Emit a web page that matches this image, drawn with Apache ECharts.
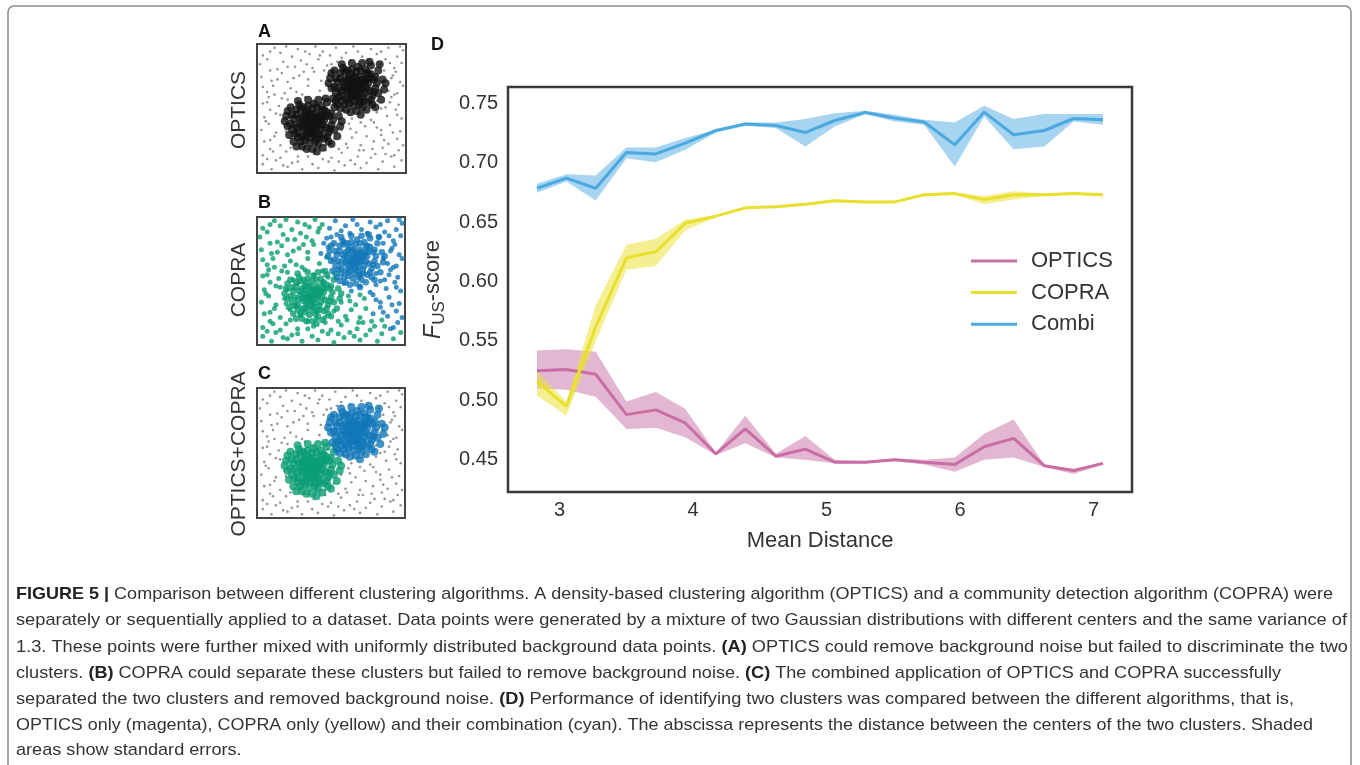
<!DOCTYPE html>
<html>
<head>
<meta charset="utf-8">
<script src="https://cdn.jsdelivr.net/npm/echarts@6/dist/echarts.min.js"></script>
<style>
html,body{margin:0;padding:0;background:#fff;}
#chart{width:1360px;height:765px;}
</style>
</head>
<body>
<div id="chart"></div>
<script>
// ---------- Panel D data ----------
const distance = [2.83,3.05,3.27,3.50,3.72,3.94,4.17,4.39,4.62,4.84,5.06,5.29,5.51,5.73,5.96,6.18,6.40,6.63,6.85,7.07];
const opticsMean = [0.525,0.526,0.522,0.488,0.492,0.481,0.455,0.476,0.453,0.459,0.448,0.448,0.450,0.448,0.446,0.461,0.468,0.445,0.441,0.447];
const opticsLow  = [0.510,0.509,0.503,0.476,0.477,0.469,0.454,0.464,0.452,0.450,0.447,0.447,0.449,0.446,0.440,0.450,0.452,0.444,0.438,0.446];
const opticsHigh = [0.542,0.543,0.541,0.499,0.507,0.493,0.456,0.487,0.455,0.470,0.450,0.449,0.451,0.450,0.452,0.472,0.484,0.446,0.442,0.448];
const copraMean = [0.516,0.495,0.562,0.620,0.625,0.649,0.655,0.662,0.663,0.665,0.668,0.667,0.667,0.673,0.674,0.669,0.673,0.673,0.674,0.673];
const copraLow  = [0.504,0.487,0.550,0.610,0.613,0.643,0.654,0.661,0.662,0.664,0.667,0.666,0.666,0.672,0.673,0.665,0.669,0.672,0.673,0.672];
const copraHigh = [0.524,0.499,0.580,0.631,0.636,0.652,0.656,0.663,0.664,0.666,0.669,0.668,0.668,0.674,0.675,0.672,0.676,0.674,0.675,0.674];
const combiMean = [0.6785,0.687,0.6785,0.7085,0.7074,0.7165,0.7271,0.7325,0.7313,0.7254,0.7355,0.7422,0.7375,0.7342,0.7150,0.7426,0.7235,0.7271,0.7372,0.7361];
const combiLow  = [0.6748,0.6841,0.6681,0.7038,0.7004,0.7108,0.7254,0.7310,0.7291,0.7136,0.7305,0.7409,0.7347,0.7319,0.6967,0.7389,0.7114,0.7136,0.7347,0.7319];
const combiHigh = [0.6822,0.6903,0.6892,0.7128,0.7128,0.7207,0.7277,0.7338,0.7338,0.7367,0.7417,0.7437,0.7403,0.7361,0.7338,0.7479,0.7367,0.7409,0.7409,0.7409];
const seriesNames = ['OPTICS','COPRA','Combi'];

// ---------- Panels A-C data (same dataset, 0-100 units) ----------
const bgGreen = [[3,6],[9,2],[12,9],[20,4],[23,7],[30,2],[37,6],[41,3],[48,8],[52,1],[59,5],[63,9],[70,3],[74,7],[82,2],[85,8],[93,4],[98,9],
[3,13],[8,18],[15,11],[19,16],[27,12],[34,18],[38,14],[46,17],[50,11],[57,15],[61,19],[68,12],[72,17],[80,14],[85,19],
[4,24],[11,28],[15,21],[22,27],[29,23],[46,21],[52,26],[60,22],[64,27],[70,21],[74,28],
[2,33],[7,38],[12,31],[18,36],[57,33],[62,38],[67,31],[73,36],
[4,43],[8,49],[15,45],[3,54],[7,59],[14,52],[20,57],[24,51],[32,59],[38,55],[44,58],[48,53],
[6,63],[10,68],[18,62],[22,66],[30,61],[34,68],[42,64],[47,69],
[2,75],[9,72],[16,78],[20,71],[28,76],[34,73],[38,79],
[1,85],[6,89],[13,81],[17,87],[25,83],[29,88],[37,82],[41,89],
[3,92],[11,98],[15,94],[23,91],[27,97],[35,93],[39,99],[44,95],
[6,10],[17,5],[27,8],[34,12],[44,10],[55,8],[66,6],[77,11],[87,14],[10,16],[22,19],[40,20],[55,18],[69,17],[78,18],
[8,25],[19,32],[26,30],[63,34],[70,39],[5,40],[12,46],[20,43],[27,48],[6,55],[11,61],[16,58],[26,63],[3,67],
[13,73],[24,74],[31,79],[8,80],[20,83],[33,85],[8,95],[19,99],[32,95],[42,92]];
const bgBlue = [[91,12],[96,17],[79,24],[84,29],[89,22],[95,26],[99,21],[79,39],[84,33],[90,37],[97,32],
[59,48],[64,42],[70,46],[77,41],[81,47],[88,44],[94,49],[98,42],[81,56],[87,51],[91,59],[96,53],
[89,64],[93,61],[99,68],[43,72],[48,77],[91,74],[97,71],[94,79],
[47,84],[54,87],[59,81],[83,85],[87,89],[93,82],[98,86],
[49,92],[53,98],[60,94],[65,99],[71,91],[77,97],[81,93],[89,98],[95,91],[99,96],
[93,13],[86,25],[92,31],[81,35],[95,45],[84,50],[90,55],[95,62],[86,68],[92,76],[86,80],[90,86],[57,90],[68,95],[75,88],[84,95],[97,99],[63,88],[50,85],[45,80]];
const clusterGreen = [[37,38],[35,41],[40,36],[33,37],[38,43],[42,40],[36,34],[31,40],[39,39],[34,35],[41,44],[44,37],[32,43],[37,31],[30,36],[43,33],[35,45],[40,41],[38,35],[33,32],[45,41],[29,39],[36,46],[42,30],[34,39],[39,32],[31,34],[44,44],[37,42],[41,38],[35,37],[32,46],[40,46],[46,35],[28,42],[38,29],[43,42],[34,30],[30,44],[36,36],
[25,37],[27,31],[26,45],[29,50],[34,52],[40,51],[45,49],[49,44],[50,37],[48,31],[45,26],[39,24],[32,25],[27,27],[24,42],[23,33],[30,28],[36,27],[42,27],[47,28],[51,41],[47,47],[43,52],[37,50],[31,51],[26,49],[22,38],[25,30],[29,24],[35,23],[41,22],[48,24],[52,33],[50,46],[38,54],[28,53],[23,45],[33,48],[46,44],[49,34],[27,35],[44,48],[32,28],[40,26],
[20,36],[19,44],[21,29],[24,24],[30,20],[37,18],[44,19],[50,22],[54,28],[56,36],[55,44],[52,51],[47,55],[41,57],[34,57],[27,56],[22,51],[18,40],[26,20],[46,58],[53,56],[57,40],[20,48],[33,18],[40,16]];
const clusterBlue = [[67,67],[65,70],[70,65],[63,66],[68,72],[72,69],[66,63],[61,69],[69,68],[64,64],[71,73],[74,66],[62,72],[67,60],[60,65],[73,62],[65,74],[70,70],[68,64],[63,61],[75,70],[59,68],[66,75],[72,59],[64,68],[69,61],[61,63],[74,73],[67,71],[71,66],[65,66],[62,75],[70,75],[76,64],[58,71],[68,58],[73,71],[64,59],[60,73],[66,65],
[55,66],[57,60],[56,74],[59,79],[64,81],[70,80],[75,78],[79,73],[80,66],[78,60],[75,55],[69,53],[62,54],[57,56],[54,71],[53,62],[60,58],[66,56],[72,56],[77,57],[81,70],[77,77],[73,81],[67,79],[61,80],[56,78],[52,67],[55,59],[59,53],[65,52],[71,51],[78,53],[82,62],[80,75],[68,83],[58,82],[53,74],[63,77],[76,74],[79,63],[57,64],[74,77],[62,57],[70,55],
[50,66],[49,74],[51,58],[54,53],[60,49],[67,48],[74,49],[80,51],[84,57],[86,65],[85,73],[82,80],[77,84],[71,86],[64,86],[57,85],[52,80],[48,70],[56,50],[76,87],[83,85],[87,70],[50,78],[63,47],[70,45]];

// ---------- Texts ----------
const panelNames = ['OPTICS','COPRA','OPTICS+COPRA'];
const panelLetters = ['A','B','C','D'];
const xAxisTitle = 'Mean Distance';
const captionLines = [
 '{b|FIGURE 5 |} Comparison between different clustering algorithms. A density-based clustering algorithm (OPTICS) and a community detection algorithm (COPRA) were',
 'separately or sequentially applied to a dataset. Data points were generated by a mixture of two Gaussian distributions with different centers and the same variance of',
 '1.3. These points were further mixed with uniformly distributed background data points. {b|(A)} OPTICS could remove background noise but failed to discriminate the two',
 'clusters. {b|(B)} COPRA could separate these clusters but failed to remove background noise. {b|(C)} The combined application of OPTICS and COPRA successfully',
 'separated the two clusters and removed background noise. {b|(D)} Performance of identifying two clusters was compared between the different algorithms, that is,',
 'OPTICS only (magenta), COPRA only (yellow) and their combination (cyan). The abscissa represents the distance between the centers of the two clusters. Shaded',
 'areas show standard errors.'
];

const FONT = '"Liberation Sans", Arial, Helvetica, sans-serif';
const TXT = '#333';
const GREEN = '#0a9d74', BLUE = '#1177b8', GRAY = '#7a7a7a';
const lineColors = ['#c86ea5','#e8df2e','#4ba9e0'];
const bandColors = ['rgba(200,110,165,0.5)','rgba(236,226,60,0.55)','rgba(80,170,225,0.5)'];

// caption layout: each line is fitted to the width it takes in the reference
const cv = document.createElement('canvas').getContext('2d');
function measureLine(line, size){
  let w = 0;
  line.split(/(\{b\|[^}]*\})/).forEach(seg => {
    if(!seg) return;
    const m = seg.match(/^\{b\|([^}]*)\}$/);
    cv.font = (m ? 'bold ' : '') + size + 'px "Liberation Sans"';
    w += cv.measureText(m ? m[1] : seg).width;
  });
  return w;
}
const CAP_SIZE = 17;
const capLeft = 16;
const capRight = [1333,1347,1348,1281,1294,1313,null];
const capScales = capRight.map((r,i)=> r ? (r-capLeft)/measureLine(captionLines[i], CAP_SIZE) : null);
const avgScale = capScales.filter(s=>s).reduce((a,b)=>a+b,0)/6;
const capY = [594,620,647,673,699,725,750];

const chart = echarts.init(document.getElementById('chart'), null, {renderer:'canvas'});

const smallGrids = [
  {left:257, top:44, width:149, height:129},
  {left:257, top:217, width:148, height:128},
  {left:257, top:388, width:148, height:130}
];
const grids = smallGrids.map(g => Object.assign({show:true, borderColor:'#444', borderWidth:2, backgroundColor:'#fff'}, g));
grids.push({left:508, top:87, width:624, height:405, show:true, borderColor:'#3a3a3a', borderWidth:2.5});

const xAxes = [], yAxes = [];
for(let i=0;i<3;i++){
  xAxes.push({gridIndex:i, type:'value', min:-1, max:101, show:false});
  yAxes.push({gridIndex:i, type:'value', min:-1, max:101, show:false});
}
xAxes.push({
  gridIndex:3, type:'value', min:2.613, max:7.287, splitNumber:5,
  axisLine:{show:false}, axisTick:{show:false}, splitLine:{show:false},
  axisLabel:{color:TXT, fontSize:20, fontFamily:FONT, margin:8, showMinLabel:false, showMaxLabel:false,
    formatter: v => (Math.abs(v-Math.round(v))<1e-6 ? String(Math.round(v)) : '')},
  name:xAxisTitle, nameLocation:'middle', nameGap:38,
  nameTextStyle:{color:TXT, fontSize:22, fontFamily:FONT}
});
yAxes.push({
  gridIndex:3, type:'value', min:0.4229, max:0.7637, splitNumber:7,
  axisLine:{show:false}, axisTick:{show:false}, splitLine:{show:false},
  axisLabel:{color:TXT, fontSize:20, fontFamily:FONT, margin:10, showMinLabel:false, showMaxLabel:false,
    formatter: v => v.toFixed(2)},
  name:'{i|F}{s|US}{n|-score}', nameLocation:'middle', nameGap:60, nameRotate:90,
  nameTextStyle:{color:TXT, rich:{
    i:{fontSize:23, fontStyle:'italic', fontFamily:FONT, color:TXT, lineHeight:24, verticalAlign:'top'},
    s:{fontSize:17, fontFamily:FONT, color:TXT, padding:[9,0,0,0], verticalAlign:'bottom'},
    n:{fontSize:22, fontFamily:FONT, color:TXT, lineHeight:24, verticalAlign:'top'}
  }}
});

const series = [];
function sc(idx, data, color, size, z){
  series.push({type:'scatter', xAxisIndex:idx, yAxisIndex:idx, data:data, symbolSize:size,
    itemStyle:{color:color}, z:z, silent:true});
}
// A
sc(0,bgGreen,GRAY,2.6,2); sc(0,bgBlue,GRAY,2.6,2);
sc(0,clusterGreen,'#111',8,3); sc(0,clusterBlue,'#111',8,3);
// B
sc(1,bgGreen,GREEN,5,2); sc(1,bgBlue,BLUE,5,2);
sc(1,clusterGreen,GREEN,6.5,3); sc(1,clusterBlue,BLUE,6.5,3);
// C
sc(2,bgGreen,GRAY,2.6,2); sc(2,bgBlue,GRAY,2.6,2);
sc(2,clusterGreen,GREEN,8,3); sc(2,clusterBlue,BLUE,8,3);

// D bands
const lows = [opticsLow, copraLow, combiLow];
const highs = [opticsHigh, copraHigh, combiHigh];
const means = [opticsMean, copraMean, combiMean];
for(let k=0;k<3;k++){
  const lo = lows[k], hi = highs[k], col = bandColors[k];
  series.push({
    type:'custom', name:'band'+k, xAxisIndex:3, yAxisIndex:3, z:1, silent:true,
    data:[[distance[0], lo[0]]],
    renderItem:function(params, api){
      const pts = [];
      for(let i=0;i<distance.length;i++) pts.push(api.coord([distance[i], hi[i]]));
      for(let i=distance.length-1;i>=0;i--) pts.push(api.coord([distance[i], lo[i]]));
      return {type:'polygon', shape:{points:pts}, style:{fill:col, stroke:null}};
    }
  });
}
for(let k=0;k<3;k++){
  series.push({
    type:'line', name:seriesNames[k], xAxisIndex:3, yAxisIndex:3, z:3,
    data: distance.map((x,i)=>[x, means[k][i]]),
    symbol:'none', legendIcon:'rect',
    lineStyle:{color:lineColors[k], width:3}, itemStyle:{color:lineColors[k]}
  });
}

const graphics = [
  {type:'rect', shape:{x:8, y:6, width:1343, height:790, r:6}, style:{fill:'none', stroke:'#8a8a8a', lineWidth:1.5}, z:0}
];
const letterPos = [[258,32],[258,203],[258,374],[431,45]];
letterPos.forEach((p,i)=>{
  graphics.push({type:'text', x:p[0], y:p[1], style:{text:panelLetters[i], fontSize:18, fontWeight:'bold', fontFamily:FONT, fill:'#111', verticalAlign:'middle'}});
});
const nameCenters = [[239,110],[239,280],[239,454]];
nameCenters.forEach((p,i)=>{
  graphics.push({type:'text', x:p[0], y:p[1], rotation:Math.PI/2,
    style:{text:panelNames[i], fontSize:21, fontFamily:FONT, fill:TXT, align:'center', verticalAlign:'middle'}});
});
captionLines.forEach((line,i)=>{
  graphics.push({type:'text', x:capLeft, y:capY[i], scaleX:capScales[i] || avgScale,
    style:{text:line, fontSize:CAP_SIZE, fontFamily:FONT, fill:TXT, verticalAlign:'middle',
      rich:{b:{fontWeight:'bold', fontSize:CAP_SIZE, fontFamily:FONT, fill:'#222'}}}});
});

chart.setOption({
  animation:false,
  backgroundColor:'#fff',
  grid:grids, xAxis:xAxes, yAxis:yAxes,
  legend:{
    data:seriesNames, orient:'vertical', left:966, top:245, itemWidth:46, itemHeight:3, itemGap:9.6,
    icon:'rect',
    textStyle:{color:TXT, fontSize:22, fontFamily:FONT, lineHeight:22, padding:[0,0,0,9]},
    selectedMode:false
  },
  series:series,
  graphic:{elements:graphics}
});
</script>
</body>
</html>
